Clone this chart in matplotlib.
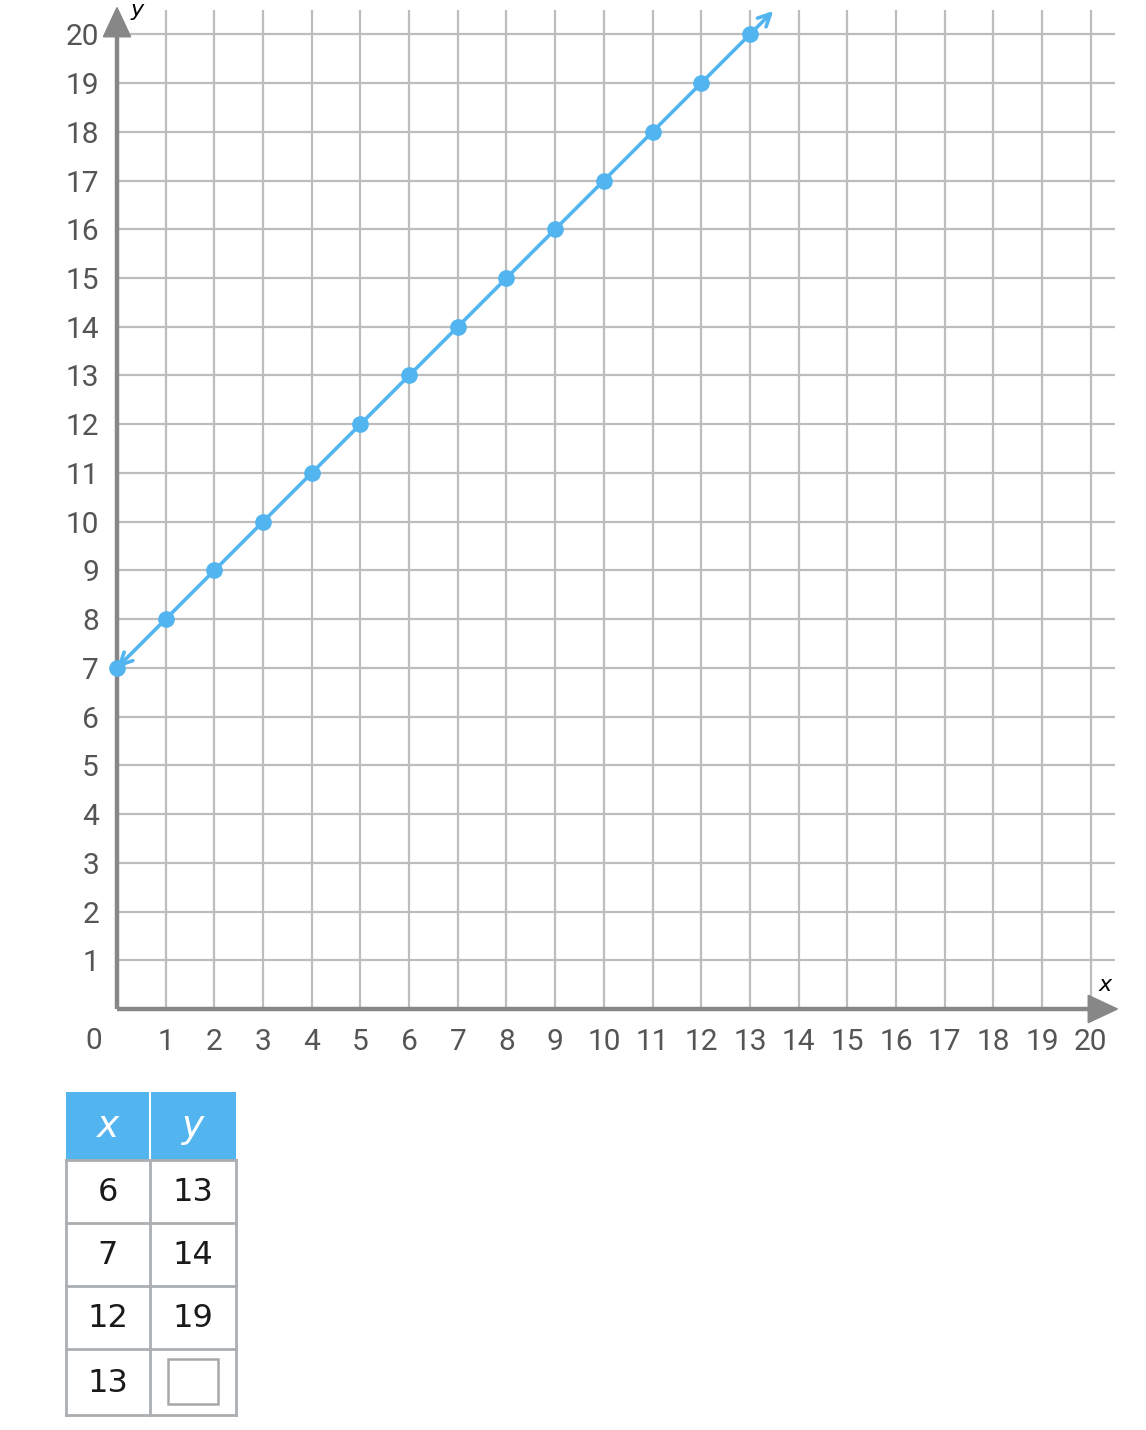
import matplotlib
matplotlib.use("Agg")
import matplotlib.pyplot as plt
from matplotlib.patches import Rectangle, Polygon

# ---- data ----
x_points = list(range(0, 14))
y_points = [x + 7 for x in x_points]
x_ticks = list(range(1, 21))
y_ticks = list(range(1, 21))
table_header = ["x", "y"]
table_x = ["6", "7", "12", "13"]
table_y = ["13", "14", "19", ""]

W, H = 1146, 1430
fig = plt.figure(figsize=(W / 100, H / 100), dpi=100)

BLUE = "#52B5F0"
AXC = "#878787"
GRIDC = "#BDBDBD"
TXT = "#555555"

# main chart axes (pixel box: x 117..1115, y 10..1009)
L, R, T, B = 117, 1115, 10, 1009
ax = fig.add_axes([L / W, (H - B) / H, (R - L) / W, (B - T) / H])
ax.set_xlim(0, 20.5)
ax.set_ylim(0, 20.5)
for s in ax.spines.values():
    s.set_visible(False)
ax.set_xticks(x_ticks)
ax.set_yticks(y_ticks)
ax.set_xticklabels([str(v) for v in x_ticks], fontfamily="Roboto", fontsize=21.5, color=TXT)
ax.set_yticklabels([str(v) for v in y_ticks], fontfamily="Roboto", fontsize=21.5, color=TXT)
ax.tick_params(length=0)
ax.tick_params(axis="x", pad=14)
ax.tick_params(axis="y", pad=13)
ax.grid(True, color=GRIDC, linewidth=1.6)
ax.set_axisbelow(True)
ax.text(-0.48, -0.66, "0", fontfamily="Roboto", fontsize=21.5, color=TXT,
        ha="center", va="center", clip_on=False)

# axes lines with arrowheads
ax.plot([0, 20.0], [0, 0], color=AXC, lw=3.2, solid_capstyle="butt", clip_on=False, zorder=3)
ax.plot([0, 0], [0, 20.0], color=AXC, lw=3.2, solid_capstyle="butt", clip_on=False, zorder=3)
ax.add_patch(Polygon([[19.95, 0.28], [20.55, 0], [19.95, -0.28]], closed=True,
                     color=AXC, clip_on=False, zorder=3))
ax.add_patch(Polygon([[-0.28, 19.95], [0, 20.55], [0.28, 19.95]], closed=True,
                     color=AXC, clip_on=False, zorder=3))
ax.text(20.3, 0.5, "x", style="italic", fontfamily="DejaVu Sans", fontsize=16,
        color="black", ha="center", va="center", clip_on=False)
ax.text(0.42, 20.5, "y", style="italic", fontfamily="DejaVu Sans", fontsize=16,
        color="black", ha="center", va="center", clip_on=False)

# line with arrows
ax.annotate("", xy=(13.48, 20.48), xytext=(x_points[0], y_points[0]),
            arrowprops=dict(arrowstyle="<->", color=BLUE, lw=2.6,
                            mutation_scale=22, shrinkA=0, shrinkB=0),
            annotation_clip=False, zorder=4)
ax.plot(x_points, y_points, "o", color=BLUE, markersize=11, clip_on=False, zorder=5)

# ---- table (pixel overlay) ----
tax = fig.add_axes([0, 0, 1, 1])
tax.set_xlim(0, W)
tax.set_ylim(H, 0)
tax.axis("off")
cols = [66, 150, 236]
rows = [1092, 1160, 1223, 1286, 1349, 1415]
BORD = "#ABAFB1"
tax.add_patch(Rectangle((cols[0], rows[0]), cols[2] - cols[0], rows[1] - rows[0],
                        facecolor=BLUE, edgecolor="none"))
tax.plot([cols[1], cols[1]], [rows[0], rows[1]], color="white", lw=1.5)
for i, h in enumerate(table_header):
    cx = (cols[i] + cols[i + 1]) / 2
    cy = (rows[0] + rows[1]) / 2
    tax.text(cx, cy + 1, h, style="italic", fontfamily="DejaVu Sans", fontsize=27,
             color="white", ha="center", va="center")
# borders for body
for r in rows[1:]:
    tax.plot([cols[0], cols[2]], [r, r], color=BORD, lw=2)
for c in cols:
    tax.plot([c, c], [rows[1], rows[-1]], color=BORD, lw=2)
for j in range(len(table_x)):
    cy = (rows[j + 1] + rows[j + 2]) / 2
    tax.text((cols[0] + cols[1]) / 2, cy + 1, table_x[j], fontfamily="DejaVu Sans",
             fontsize=23, color="#1a1a1a", ha="center", va="center")
    if table_y[j]:
        tax.text((cols[1] + cols[2]) / 2, cy + 1, table_y[j], fontfamily="DejaVu Sans",
                 fontsize=23, color="#1a1a1a", ha="center", va="center")
    else:
        tax.add_patch(Rectangle((168, 1359), 50, 45, facecolor="white",
                                edgecolor="#A8A8A8", lw=1.8))

fig.savefig("out.png", dpi=100)
